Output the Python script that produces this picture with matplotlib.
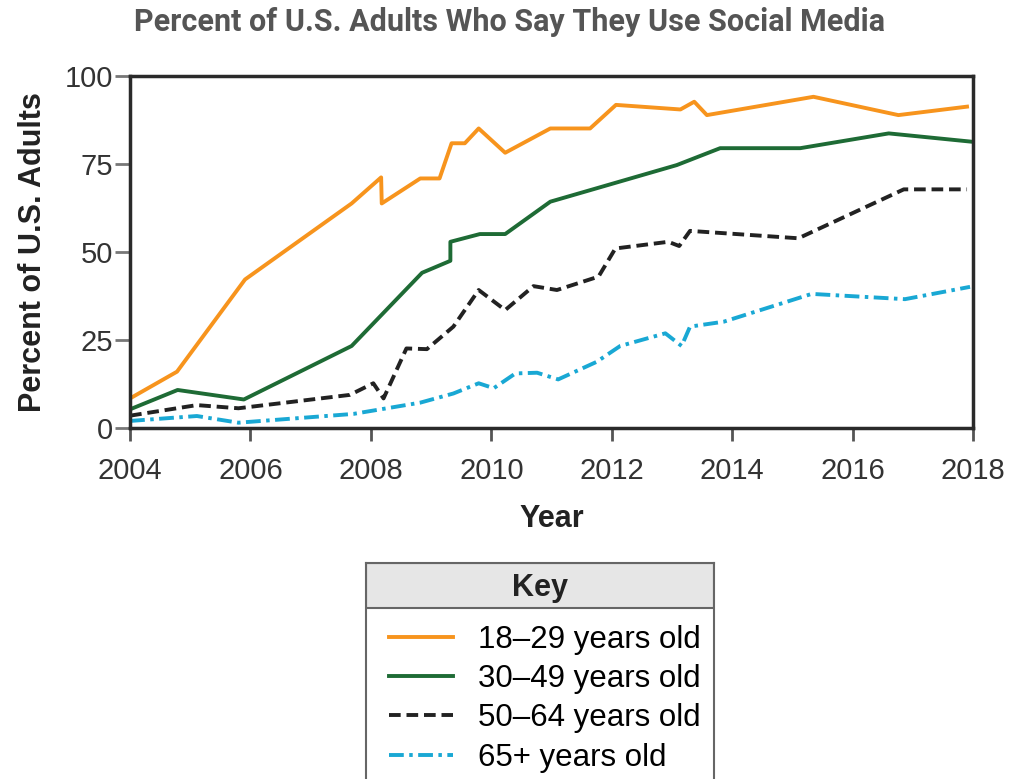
import matplotlib.pyplot as plt
from matplotlib.patches import Rectangle
from matplotlib.lines import Line2D

# data (year, percent)
yr_1829 = [2004.0, 2004.78, 2005.91, 2007.68, 2008.17, 2008.18, 2008.82, 2009.14, 2009.34, 2009.56,
           2009.79, 2010.23, 2010.98, 2011.64, 2012.07, 2013.14, 2013.37, 2013.58, 2015.35, 2016.76, 2017.9]
pct_1829 = [8.4, 16, 42.2, 63.8, 71.2, 63.8, 70.9, 70.9, 80.9, 80.9,
            85.1, 78.2, 85.1, 85.1, 91.8, 90.5, 92.7, 88.9, 94.1, 88.9, 91.3]

yr_3049 = [2004.0, 2004.79, 2005.89, 2007.68, 2008.85, 2009.32, 2009.32, 2009.81, 2010.23, 2010.98,
           2013.08, 2013.8, 2015.13, 2016.6, 2018.0]
pct_3049 = [5.3, 10.8, 8.1, 23.3, 44.1, 47.5, 52.9, 55.1, 55.1, 64.3,
            74.7, 79.5, 79.5, 83.7, 81.3]

yr_5064 = [2004.0, 2005.11, 2005.8, 2007.65, 2008.04, 2008.21, 2008.59, 2008.93, 2009.37, 2009.79,
           2010.23, 2010.7, 2011.09, 2011.78, 2012.06, 2012.94, 2013.12, 2013.3, 2015.1, 2016.85, 2017.9]
pct_5064 = [3.5, 6.5, 5.6, 9.4, 12.7, 8.4, 22.6, 22.4, 28.8, 39.2,
            33.5, 40.3, 39.2, 43.0, 51.0, 52.9, 51.7, 56.0, 53.9, 67.8, 67.8]

yr_65 = [2004.0, 2005.11, 2005.8, 2007.71, 2008.82, 2009.37, 2009.79, 2010.04, 2010.4, 2010.76,
         2011.11, 2011.75, 2012.14, 2012.89, 2013.16, 2013.3, 2013.86, 2015.32, 2016.87, 2017.95]
pct_65 = [2.0, 3.4, 1.5, 4.0, 7.2, 9.8, 12.7, 11.3, 15.5, 15.7,
          13.8, 18.8, 23.3, 26.9, 23.3, 28.8, 30.2, 38.1, 36.6, 40.1]

labels = ['18\u201329 years old', '30\u201349 years old', '50\u201364 years old', '65+ years old']
colors = ['#f7941d', '#1e6b35', '#222222', '#19a8d4']
dash = (0, (3.0, 1.5))
dashdot = (0, (3.8, 1.4, 0.9, 1.4))

plt.rcParams['font.family'] = ['Liberation Sans', 'DejaVu Sans']

fig = plt.figure(figsize=(10.12, 7.79), dpi=100)
ax = fig.add_axes([0.1285, 0.4506, 0.8330, 0.4518])

lw = 2.8
ax.plot(yr_1829, pct_1829, color=colors[0], lw=lw)
ax.plot(yr_3049, pct_3049, color=colors[1], lw=lw)
ax.plot(yr_5064, pct_5064, color=colors[2], lw=lw, ls=dash)
ax.plot(yr_65, pct_65, color=colors[3], lw=lw, ls=dashdot)

ax.set_xlim(2004, 2018)
ax.set_ylim(0, 100)
ax.set_xticks(range(2004, 2019, 2))
ax.set_yticks([0, 25, 50, 75, 100])
ax.tick_params(labelsize=21, labelcolor='#333333', color='#555555', width=2)
ax.tick_params(axis='x', length=9, pad=12)
ax.tick_params(axis='y', length=11, pad=1.5, color='#777777')
for s in ax.spines.values():
    s.set_linewidth(2.5)
    s.set_color('#2a2a2a')
ax.set_xlabel('Year', fontsize=22, fontweight='bold', color='#222222')
ax.set_ylabel('Percent of U.S. Adults', fontsize=22, fontweight='bold', color='#222222')
ax.xaxis.set_label_coords(0.5, -0.217)
ax.yaxis.set_label_coords(-0.097, 0.5)

fig.text(0.503, 0.972, 'Percent of U.S. Adults Who Say They Use Social Media', ha='center', va='center',
         fontsize=22, fontweight='bold', color='#555555', family=['Roboto', 'DejaVu Sans'])

# key box
kax = fig.add_axes([0.3617, 0.0, 0.3439, 0.2773])
kax.set_xlim(0, 1)
kax.set_ylim(0, 1)
kax.set_xticks([])
kax.set_yticks([])
for side, s in kax.spines.items():
    s.set_color('#666666')
    s.set_linewidth(1.5)
kax.spines['bottom'].set_visible(False)
kax.add_patch(Rectangle((0, 0.792), 1, 0.208, facecolor='#e6e6e6', edgecolor='#666666', lw=1.5))
kax.text(0.5, 0.885, 'Key', ha='center', va='center', fontsize=22, fontweight='bold', color='#222222')

handles = [Line2D([], [], color=colors[0], lw=2.8),
           Line2D([], [], color=colors[1], lw=2.8),
           Line2D([], [], color=colors[2], lw=2.8, ls=dash),
           Line2D([], [], color=colors[3], lw=2.8, ls=dashdot)]
kax.legend(handles, labels, loc='upper left', bbox_to_anchor=(0.065, 0.715), frameon=False,
           fontsize=22.5, handlelength=2.05, handletextpad=0.82, labelspacing=0.3, borderaxespad=0,
           borderpad=0)

fig.savefig('out.png', dpi=100)
